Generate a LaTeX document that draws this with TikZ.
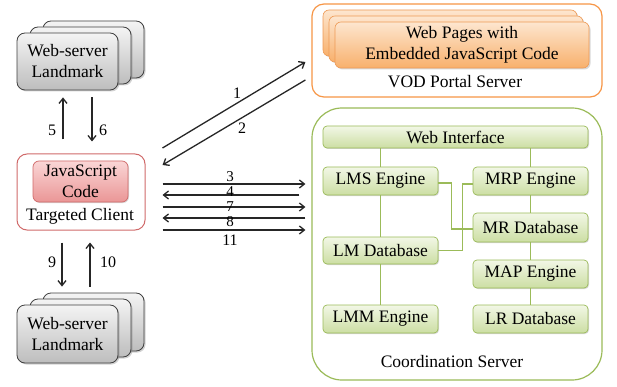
\documentclass[tikz,border=0pt]{standalone}
\usepackage{fontspec}
\setmainfont{Liberation Serif}
\usetikzlibrary{arrows.meta,shadows,calc}

\definecolor{lmborder}{HTML}{404040}
\definecolor{lmtop}{HTML}{F4F4F4}
\definecolor{lmbot}{HTML}{BDBDBD}
\definecolor{clborder}{HTML}{D06A6A}
\definecolor{jstop}{HTML}{FAD6D6}
\definecolor{jsbot}{HTML}{EA9696}
\definecolor{vodborder}{HTML}{F79646}
\definecolor{cardtop}{HTML}{FDE6CF}
\definecolor{cardbot}{HTML}{F8B06C}
\definecolor{cardborder}{HTML}{EE9A55}
\definecolor{coborder}{HTML}{9BBB59}
\definecolor{gtop}{HTML}{F2F7E6}
\definecolor{gbot}{HTML}{CCDEA3}
\definecolor{arrowcol}{HTML}{262626}

\begin{document}
\begin{tikzpicture}[x=1pt,y=-1pt,
  font=\fontsize{17.5}{21}\selectfont,
  every node/.style={inner sep=0pt, align=center},
  lmcard/.style={draw=lmborder, line width=0.8pt, rounded corners=8pt,
    top color=lmtop, bottom color=lmbot,
    drop shadow={opacity=0.35, shadow xshift=1.5pt, shadow yshift=-1.5pt}},
  jscard/.style={draw=clborder, line width=0.7pt, rounded corners=6pt,
    top color=jstop, bottom color=jsbot,
    drop shadow={opacity=0.3, shadow xshift=1pt, shadow yshift=-1pt}},
  orcard/.style={draw=cardborder, line width=0.6pt, rounded corners=6pt,
    top color=cardtop, bottom color=cardbot,
    drop shadow={opacity=0.3, shadow xshift=1.5pt, shadow yshift=-1.5pt}},
  gbox/.style={draw=coborder, line width=0.7pt, rounded corners=4pt,
    top color=gtop, bottom color=gbot,
    drop shadow={opacity=0.3, shadow xshift=1pt, shadow yshift=-1pt},
    minimum width=115pt, minimum height=28pt},
  glink/.style={draw=coborder, line width=1.3pt},
  arr/.style={draw=arrowcol, line width=1.3pt,
    -{Straight Barb[length=5pt,width=8pt,line width=1.3pt]}},
  num/.style={font=\fontsize{16}{18}\selectfont},
  smallnum/.style={font=\fontsize{15}{16}\selectfont}
]
\useasboundingbox[fill=white] (0,0) rectangle (617,387);

% ---------- upper landmark stack ----------
\draw[lmcard] (43,21) rectangle (144,78);
\draw[lmcard] (30,27) rectangle (131,84);
\node[lmcard, minimum width=101pt, minimum height=57pt] (lmup) at (67.5,61.5) {Web-server\\Landmark};

% ---------- targeted client ----------
\node[draw=clborder, line width=1pt, rounded corners=10pt, fill=white,
      minimum width=128pt, minimum height=76pt] (client) at (81,192) {};
\node[jscard, minimum width=95pt, minimum height=41pt] (js) at (80.5,181.5) {JavaScript\\Code};
\node (tc) at (80,216) {Targeted Client};

% ---------- lower landmark stack ----------
\draw[lmcard] (43,293) rectangle (144,351);
\draw[lmcard] (30,299) rectangle (131,357);
\node[lmcard, minimum width=101pt, minimum height=58pt] (lmdown) at (67.5,334) {Web-server\\Landmark};

% ---------- VOD portal server ----------
\node[draw=vodborder, line width=1.2pt, rounded corners=12pt, fill=white,
      minimum width=290pt, minimum height=93pt] (vod) at (457,50.5) {};
\draw[orcard] (323,10) rectangle (577,56);
\draw[orcard] (329,16) rectangle (583,62);
\node[orcard, minimum width=254pt, minimum height=46pt] (pages) at (462,45)
  {Web Pages with\\Embedded JavaScript Code};
\node (vodlabel) at (455,82) {VOD Portal Server};

% ---------- coordination server ----------
\node[draw=coborder, line width=1.2pt, rounded corners=30pt, fill=white,
      minimum width=290pt, minimum height=272pt] (coord) at (457,244) {};
\node[gbox, minimum width=265pt, minimum height=22pt] (web) at (455.5,137) {Web Interface};
\node[gbox] (lms) at (380.5,181) {LMS Engine};
\node[gbox] (mrp) at (530.5,181) {MRP Engine};
\node[gbox, minimum height=29pt] (mrdb) at (530.5,227.5) {MR Database};
\node[gbox, minimum height=27pt] (lmdb) at (380.5,250.5) {LM Database};
\node[gbox] (map) at (530.5,274) {MAP Engine};
\node[gbox] (lmm) at (380.5,319) {LMM Engine};
\node[gbox] (lr) at (530.5,319) {LR Database};
\node (colabel) at (452,362) {Coordination Server};

% links inside the coordination server
\draw[glink] (lms.north) -- (lms.north |- web.south);
\draw[glink] (mrp.north) -- (mrp.north |- web.south);
\draw[glink] (lms.south) -- (lmdb.north);
\draw[glink] (lmdb.south) -- (lmm.north);
\draw[glink] (mrp.south) -- (mrdb.north);
\draw[glink] (mrdb.south) -- (map.north);
\draw[glink] (map.south) -- (lr.north);
\draw[glink] ([yshift=-2pt]lms.east) -- ++(13,0) |- ([yshift=-1.5pt]mrdb.west);
\draw[glink] (lmdb.east) -- ++(24,0) |- ([yshift=-3pt]mrp.west);

% ---------- message arrows ----------
% 5 / 6 : client <-> upper landmark
\draw[arr] ($(client.north)+(-18,-14)$) -- ($(lmup.south)+(-4.5,7)$);
\draw[arr] ($(lmup.south)+(24.5,7)$) -- ($(client.north)+(11,-12)$);
\node[num] (n5) at (52,130) {5};
\node[num] (n6) at (103,130) {6};

% 9 / 10 : client <-> lower landmark
\draw[arr] ($(client.south)+(-19,12)$) -- ($(lmdown.north)+(-5.5,-18)$);
\draw[arr] ($(lmdown.north)+(22.5,-18)$) -- ($(client.south)+(9,12)$);
\node[num] (n9) at (52,262) {9};
\node[num] (n10) at (108,262) {10};

% 1 / 2 : client <-> VOD portal
\draw[arr] ($(client.east)+(17,-44)$) -- ($(vod.west)+(-6,11.5)$);
\draw[arr] ($(vod.west)+(-6,29.5)$) -- ($(client.east)+(17,-27)$);
\node[num] (n1) at (237,93) {1};
\node[num] (n2) at (242,128) {2};

% 3, 4, 7, 8, 11 : client <-> coordination server
\draw[arr] ($(client.east)+(17,-8)$) -- ($(coord.west)+(-6,-60)$);
\draw[arr] ($(coord.west)+(-12,-49)$) -- ($(client.east)+(17,3)$);
\draw[arr] ($(client.east)+(17,15)$) -- ($(coord.west)+(-6,-37)$);
\draw[arr] ($(coord.west)+(-6,-26)$) -- ($(client.east)+(17,26)$);
\draw[arr] ($(client.east)+(17,38)$) -- ($(coord.west)+(-6,-14)$);
\node[smallnum] (n3) at (230,176.5) {3};
\node[smallnum] (n4) at (230,192) {4};
\node[smallnum] (n7) at (230,207) {7};
\node[smallnum] (n8) at (230,222) {8};
\node[num] (n11) at (230,240) {11};
\end{tikzpicture}
\end{document}
